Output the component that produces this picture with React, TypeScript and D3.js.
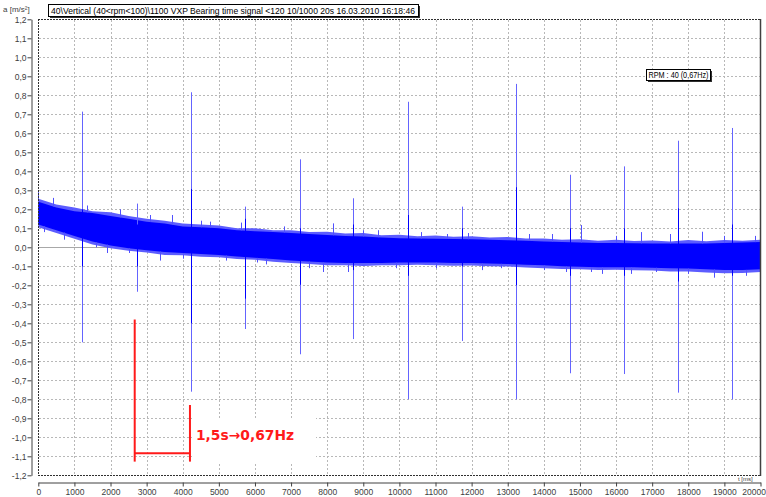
import React, { useEffect, useRef } from 'react';
import * as d3 from 'd3';

// band of the time signal, read every 500 ms (m/s²)
const bandStep = 500;
const coreHigh = [0.24, 0.21, 0.19, 0.18, 0.165, 0.15, 0.135, 0.125, 0.11, 0.105, 0.1, 0.09, 0.085, 0.08, 0.075, 0.07, 0.065, 0.06, 0.057, 0.052, 0.048, 0.046, 0.045, 0.044, 0.042, 0.04, 0.037, 0.034, 0.03, 0.028, 0.025, 0.023, 0.022, 0.021, 0.02, 0.02, 0.02, 0.02, 0.022, 0.025, 0.028];
const coreLow = [0.12, 0.09, 0.06, 0.03, 0.01, -0.005, -0.015, -0.025, -0.03, -0.035, -0.04, -0.048, -0.055, -0.062, -0.07, -0.075, -0.08, -0.082, -0.083, -0.082, -0.08, -0.08, -0.08, -0.082, -0.083, -0.085, -0.088, -0.092, -0.095, -0.1, -0.103, -0.105, -0.105, -0.105, -0.107, -0.11, -0.112, -0.115, -0.12, -0.12, -0.115];
const fringeHigh = [0.255, 0.225, 0.21, 0.19, 0.185, 0.165, 0.15, 0.14, 0.125, 0.12, 0.115, 0.1, 0.1, 0.09, 0.09, 0.08, 0.082, 0.072, 0.075, 0.063, 0.066, 0.058, 0.062, 0.055, 0.058, 0.052, 0.054, 0.046, 0.046, 0.04, 0.043, 0.035, 0.04, 0.033, 0.036, 0.031, 0.038, 0.032, 0.038, 0.035, 0.04];
const fringeLow = [0.105, 0.075, 0.045, 0.015, -0.005, -0.018, -0.028, -0.04, -0.042, -0.05, -0.052, -0.062, -0.066, -0.076, -0.082, -0.088, -0.095, -0.094, -0.098, -0.094, -0.095, -0.092, -0.094, -0.097, -0.096, -0.1, -0.101, -0.106, -0.11, -0.114, -0.116, -0.12, -0.118, -0.121, -0.122, -0.127, -0.127, -0.132, -0.137, -0.135, -0.13];

// outliers sticking out of the band
const burstTimes = [0, 150, 420, 700, 930, 1350, 1600, 1900, 2250, 2500, 3100, 3370, 3700, 4000, 4500, 4750, 5200, 5600, 6050, 6300, 6800, 7500, 7880, 8160, 8580, 9000, 9400, 9900, 10600, 11000, 11310, 11900, 12300, 12800, 13600, 14000, 14220, 14600, 15030, 15300, 15600, 16000, 16400, 16700, 17100, 17500, 18000, 18380, 18700, 19000, 19200, 19600, 19850];
const burstValues = [0.29, 0.08, 0.26, 0.04, 0.2, 0.22, 0.0, -0.03, 0.2, -0.03, 0.17, -0.07, 0.17, -0.06, 0.14, 0.135, -0.07, 0.13, -0.08, -0.09, 0.11, -0.11, -0.13, 0.126, -0.13, 0.09, 0.09, -0.11, 0.08, -0.11, 0.07, 0.075, -0.12, -0.11, 0.07, -0.12, 0.07, -0.13, 0.117, -0.13, -0.14, 0.06, -0.14, 0.08, -0.13, 0.07, -0.14, 0.082, -0.16, 0.06, -0.18, -0.15, 0.06];

// bearing impacts, every ~1.5 s
const spikeTimes = [1218, 2742, 4229, 5733, 7239, 8723, 10230, 11734, 13221, 14733, 16228, 17723, 19219];
const spikeMax = [0.714, 0.23, 0.816, 0.214, 0.463, 0.258, 0.766, 0.214, 0.86, 0.382, 0.426, 0.561, 0.628];
const spikeMin = [-0.5, -0.234, -0.76, -0.43, -0.563, -0.483, -0.8, -0.493, -0.8, -0.663, -0.667, -0.765, -0.8];
const spikeCoreMax = [0.2, 0.12, 0.307, 0.15, 0.1, 0.12, 0.17, 0.1, 0.316, 0.1, 0.1, 0.205, 0.12];
const spikeCoreMin = [-0.1, -0.1, -0.4, -0.27, -0.197, -0.12, -0.15, -0.1, -0.2, -0.15, -0.15, -0.18, -0.15];

const yTicks = [-1.2, -1.1, -1.0, -0.9, -0.8, -0.7, -0.6, -0.5, -0.4, -0.3, -0.2, -0.1, 0, 0.1, 0.2, 0.3, 0.4, 0.5, 0.6, 0.7, 0.8, 0.9, 1.0, 1.1, 1.2];
const xTicks = [0, 1000, 2000, 3000, 4000, 5000, 6000, 7000, 8000, 9000, 10000, 11000, 12000, 13000, 14000, 15000, 16000, 17000, 18000, 19000, 20000];

const title = '40\\Vertical (40<rpm<100)\\1100 VXP Bearing time signal <120 10/1000 20s 16.03.2010 16:18:46';
const rpmLabel = 'RPM : 40 (0,67Hz)';
const note = '1,5s\u21920,67Hz';
// period marker: start/end time
const markStart = 2670;
const markEnd = 4200;

export default function App() {
  const svgRef = useRef<SVGSVGElement>(null);
  const width = 766;
  const height = 497;

  useEffect(() => {
    const svg = d3.select(svgRef.current);
    svg.selectAll('*').remove();

    const x = d3.scaleLinear().domain([0, 20000]).range([38.3, 760.5]);
    const y = d3.scaleLinear().domain([-1.2, 1.2]).range([475.3, 19.3]);
    const fmt = (v: number) => d3.format('.1f')(v).replace('.', ',').replace('−', '-');
    const font = 'Liberation Sans, Arial, sans-serif';

    // grid
    const grid = svg.append('g').attr('stroke', '#b8b8b8').attr('stroke-dasharray', '2,2');
    xTicks.slice(1, -1).forEach((t) => {
      grid.append('line').attr('x1', Math.round(x(t)) + 0.5).attr('x2', Math.round(x(t)) + 0.5).attr('y1', 20).attr('y2', 475);
    });
    yTicks.slice(1, -1).forEach((v) => {
      if (v === 0) return;
      grid.append('line').attr('y1', Math.round(y(v)) + 0.5).attr('y2', Math.round(y(v)) + 0.5).attr('x1', 39).attr('x2', 760);
    });
    svg.append('line')
      .attr('x1', 39).attr('x2', 760)
      .attr('y1', Math.round(y(0)) + 0.5).attr('y2', Math.round(y(0)) + 0.5)
      .attr('stroke', '#a8a8a8');

    // signal band
    const idx = coreHigh.map((_, i) => i);
    const area = (hi: number[], lo: number[]) =>
      d3.area<number>()
        .x((i) => x(i * bandStep))
        .y0((i) => y(lo[i]))
        .y1((i) => y(hi[i]))(idx);
    svg.append('path').attr('d', area(fringeHigh, fringeLow)).attr('fill', '#5c5cff');
    svg.append('path').attr('d', area(coreHigh, coreLow)).attr('fill', '#0000ff');

    const edge = (arr: number[], t: number) => {
      const i = Math.min(Math.floor(t / bandStep), arr.length - 2);
      const f = t / bandStep - i;
      return arr[i] + (arr[i + 1] - arr[i]) * f;
    };
    burstTimes.forEach((t, i) => {
      const v = burstValues[i];
      const hi = edge(coreHigh, t);
      const lo = edge(coreLow, t);
      const from = v > (hi + lo) / 2 ? hi : lo;
      svg.append('line')
        .attr('x1', Math.round(x(t)) + 0.5).attr('x2', Math.round(x(t)) + 0.5)
        .attr('y1', y(from)).attr('y2', y(v))
        .attr('stroke', '#5050ff');
    });

    // impacts
    spikeTimes.forEach((t, i) => {
      const px = Math.round(x(t)) + 0.5;
      svg.append('line').attr('x1', px).attr('x2', px)
        .attr('y1', y(spikeMax[i])).attr('y2', y(spikeMin[i]))
        .attr('stroke', '#6464ff');
      svg.append('line').attr('x1', px).attr('x2', px)
        .attr('y1', y(spikeCoreMax[i])).attr('y2', y(spikeCoreMin[i]))
        .attr('stroke', '#0000ff');
    });

    // frame
    svg.append('g').attr('stroke', '#303030').attr('fill', 'none').attr('stroke-dasharray', '2,1')
      .call((g) => {
        g.append('line').attr('x1', 38.5).attr('x2', 38.5).attr('y1', 19).attr('y2', 476);
        g.append('line').attr('x1', 38).attr('x2', 761).attr('y1', 19.5).attr('y2', 19.5);
        g.append('line').attr('x1', 38).attr('x2', 761).attr('y1', 475.5).attr('y2', 475.5);
      });
    svg.append('line').attr('x1', 760.5).attr('x2', 760.5).attr('y1', 19).attr('y2', 476)
      .attr('stroke', '#404040').attr('stroke-width', 1.5);

    // y axis
    const yAxis = d3.axisLeft(y).tickValues(yTicks).tickSize(4).tickSizeOuter(0).tickFormat((v) => fmt(+v));
    svg.append('g')
      .attr('transform', 'translate(31.5,0)')
      .call(yAxis)
      .call((g) => g.selectAll('line').attr('stroke', '#404040'))
      .call((g) => g.select('.domain').attr('stroke', '#404040'))
      .call((g) => g.selectAll('text').attr('fill', '#404040').attr('font-family', font).attr('font-size', 8.5).attr('x', -5));

    // x axis
    const xAxis = d3.axisBottom(x).tickValues(xTicks).tickSize(4).tickSizeOuter(0).tickFormat((v) => String(v));
    svg.append('g')
      .attr('transform', 'translate(0,482.5)')
      .call(xAxis)
      .call((g) => g.selectAll('line').attr('stroke', '#404040'))
      .call((g) => g.select('.domain').attr('stroke', '#404040'))
      .call((g) => g.selectAll('text').attr('fill', '#404040').attr('font-family', font).attr('font-size', 8.5).attr('y', 6))
      .call((g) => g.selectAll<SVGTextElement, number>('text').filter((d) => d === 20000).attr('text-anchor', 'end').attr('dx', 5));

    svg.append('text').attr('x', 738).attr('y', 481).text('t [ms]')
      .attr('font-family', font).attr('font-size', 6).attr('fill', '#404040');
    svg.append('text').attr('x', 3).attr('y', 12).text('a [m/s²]')
      .attr('font-family', font).attr('font-size', 8).attr('fill', '#404040');

    // title box
    svg.append('rect').attr('x', 50).attr('y', 6).attr('width', 370).attr('height', 12).attr('fill', '#303030');
    svg.append('rect').attr('x', 48.5).attr('y', 4.5).attr('width', 370).attr('height', 12)
      .attr('fill', '#fff').attr('stroke', '#000');
    svg.append('text').attr('x', 51).attr('y', 14).text(title)
      .attr('font-family', font).attr('font-size', 9).attr('fill', '#000')
      .attr('textLength', 364).attr('lengthAdjust', 'spacingAndGlyphs');

    // rpm box
    svg.append('rect').attr('x', 648).attr('y', 71).attr('width', 64).attr('height', 11).attr('fill', '#303030');
    svg.append('rect').attr('x', 646.5).attr('y', 69.5).attr('width', 64).attr('height', 11)
      .attr('fill', '#fff').attr('stroke', '#000');
    svg.append('text').attr('x', 648.5).attr('y', 78).text(rpmLabel)
      .attr('font-family', font).attr('font-size', 8.5).attr('fill', '#000')
      .attr('textLength', 60).attr('lengthAdjust', 'spacingAndGlyphs');

    // period marker
    svg.append('rect').attr('x', 192).attr('y', 418).attr('width', 124).attr('height', 44).attr('fill', '#fff');
    const red = svg.append('g').attr('stroke', '#ff1a1a').attr('stroke-width', 2).attr('fill', 'none');
    red.append('line').attr('x1', x(markStart)).attr('x2', x(markStart)).attr('y1', y(-0.38)).attr('y2', y(-1.128));
    red.append('line').attr('x1', x(markEnd)).attr('x2', x(markEnd)).attr('y1', y(-0.83)).attr('y2', y(-1.128));
    red.append('line').attr('x1', x(markStart)).attr('x2', x(markEnd)).attr('y1', y(-1.084)).attr('y2', y(-1.084));
    svg.append('text').attr('x', 196).attr('y', 440).text(note)
      .attr('font-family', 'DejaVu Sans, sans-serif').attr('font-size', 14).attr('font-weight', 'bold').attr('fill', '#ff1a1a')
      .attr('textLength', 98).attr('lengthAdjust', 'spacingAndGlyphs');
  }, []);

  return (
    <div style={{ position: 'absolute', left: 0, top: 0 }}>
      <svg ref={svgRef} width={width} height={height} style={{ display: 'block', background: '#fff' }} />
    </div>
  );
}
